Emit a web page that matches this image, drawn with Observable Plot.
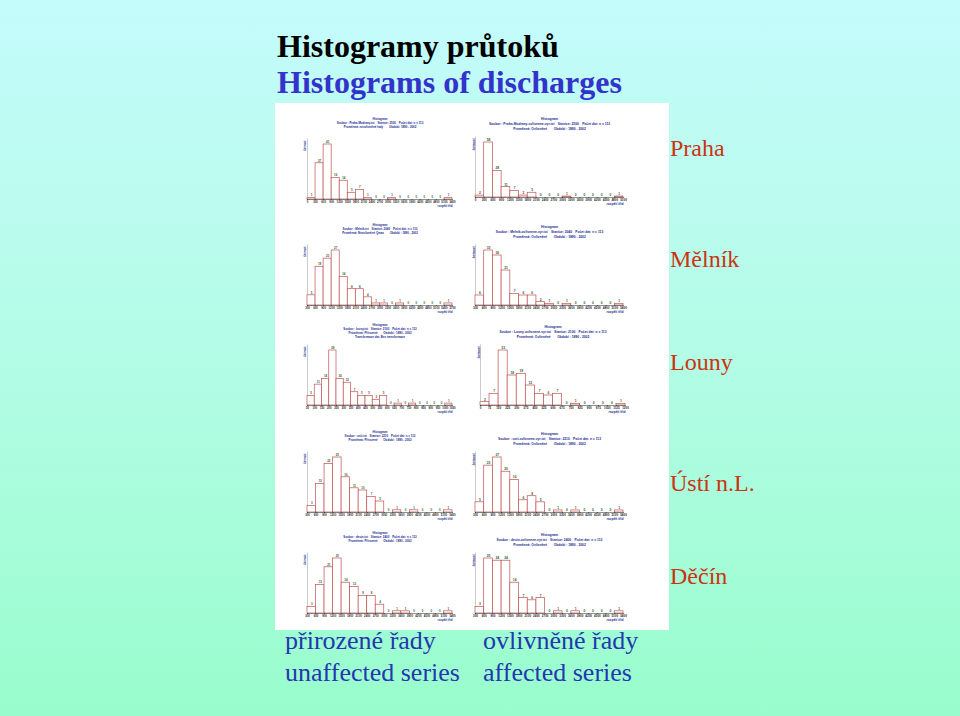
<!DOCTYPE html>
<html><head><meta charset="utf-8">
<script src="https://cdn.jsdelivr.net/npm/d3@7"></script>
<script src="https://cdn.jsdelivr.net/npm/@observablehq/plot@0.6"></script>
<style>
html,body{margin:0;padding:0;}
body{width:960px;height:716px;overflow:hidden;position:relative;background:linear-gradient(to bottom,#c4fbfb 0%,#b3fce6 50%,#98fdcc 100%);font-family:"Liberation Serif","Times New Roman",serif;}
.t{position:absolute;white-space:nowrap;line-height:1;}
#panel{position:absolute;left:275px;top:103px;width:394px;height:527px;background:#fff;}
.mini{position:absolute;}
.mini svg{overflow:visible;}
</style></head><body>
<div class="t" style="left:277px;top:30px;font-size:32px;font-weight:bold;color:#000">Histogramy průtoků</div>
<div class="t" style="left:277px;top:66px;font-size:32px;font-weight:bold;color:#3333cc">Histograms of discharges</div>
<div id="panel"></div>
<div class="t" style="left:670px;top:136px;font-size:24px;color:#cc3311">Praha</div>
<div class="t" style="left:670px;top:247px;font-size:24px;color:#cc3311">Mělník</div>
<div class="t" style="left:670px;top:350px;font-size:24px;color:#cc3311">Louny</div>
<div class="t" style="left:670px;top:471px;font-size:24px;color:#cc3311">Ústí n.L.</div>
<div class="t" style="left:670px;top:564px;font-size:24px;color:#cc3311">Děčín</div>
<div class="t" style="left:285px;top:628px;font-size:26px;color:#2436b0">přirozené řady</div>
<div class="t" style="left:483px;top:628px;font-size:26px;color:#2436b0">ovlivněné řady</div>
<div class="t" style="left:285px;top:660px;font-size:26px;color:#2436b0">unaffected series</div>
<div class="t" style="left:483px;top:660px;font-size:26px;color:#2436b0">affected series</div>
<script>
// ---- data (counts per class, class edge tick labels) ----
const prahaNatCounts = [1, 27, 41, 16, 14, 5, 7, 1, 0, 0, 1, 0, 0, 0, 0, 0, 0, 1];
const prahaNatEdges  = [0, 300, 600, 900, 1200, 1500, 1800, 2100, 2400, 2700, 3000, 3300, 3600, 3900, 4200, 4500, 4800, 5100, 5400];
const prahaAffCounts = [2, 58, 28, 11, 7, 2, 5, 0, 0, 0, 1, 0, 0, 0, 0, 0, 1];
const prahaAffEdges  = [0, 300, 600, 900, 1200, 1500, 1800, 2100, 2400, 2700, 3000, 3300, 3600, 3900, 4200, 4500, 4800, 5100];
const melnikNatCounts = [5, 19, 23, 27, 14, 8, 8, 4, 1, 1, 0, 1, 0, 0, 0, 0, 0, 1];
const melnikNatEdges  = [300, 600, 900, 1200, 1500, 1800, 2100, 2400, 2700, 3000, 3300, 3600, 3900, 4200, 4500, 4800, 5100, 5400, 5700];
const melnikAffCounts = [6, 33, 30, 21, 7, 6, 6, 2, 1, 0, 1, 0, 0, 0, 0, 0, 1];
const melnikAffEdges  = [300, 600, 900, 1200, 1500, 1800, 2100, 2400, 2700, 3000, 3300, 3600, 3900, 4200, 4500, 4800, 5100, 5400];
const lounyNatCounts = [5, 11, 14, 29, 14, 12, 7, 5, 5, 3, 5, 0, 1, 0, 1, 0, 0, 0, 0, 1];
const lounyNatEdges  = [50, 100, 150, 200, 250, 300, 350, 400, 450, 500, 550, 600, 650, 700, 750, 800, 850, 900, 950, 1000, 1050];
const lounyAffCounts = [2, 7, 33, 18, 19, 12, 7, 6, 7, 0, 1, 0, 0, 0, 0, 1];
const lounyAffEdges  = [0, 75, 150, 225, 300, 375, 450, 525, 600, 675, 750, 825, 900, 975, 1050, 1125, 1200];
const ustiNatCounts = [3, 13, 22, 25, 16, 11, 10, 7, 5, 0, 1, 0, 1, 0, 0, 0, 1];
const ustiNatEdges  = [300, 600, 900, 1200, 1500, 1800, 2100, 2400, 2700, 3000, 3300, 3600, 3900, 4200, 4500, 4800, 5100, 5400];
const ustiAffCounts = [5, 23, 27, 20, 16, 6, 8, 5, 0, 1, 0, 1, 0, 0, 0, 0, 1];
const ustiAffEdges  = [300, 600, 900, 1200, 1500, 1800, 2100, 2400, 2700, 3000, 3300, 3600, 3900, 4200, 4500, 4800, 5100, 5400];
const decinNatCounts = [3, 13, 21, 25, 14, 12, 8, 8, 4, 0, 1, 1, 0, 0, 0, 0, 1];
const decinNatEdges  = [300, 600, 900, 1200, 1500, 1800, 2100, 2400, 2700, 3000, 3300, 3600, 3900, 4200, 4500, 4800, 5100, 5400];
const decinAffCounts = [3, 25, 24, 24, 14, 7, 6, 7, 0, 1, 0, 1, 0, 0, 0, 0, 1];
const decinAffEdges  = [300, 600, 900, 1200, 1500, 1800, 2100, 2400, 2700, 3000, 3300, 3600, 3900, 4200, 4500, 4800, 5100, 5400];

const E = "\u2003";
const panels = [
  {counts: prahaNatCounts, edges: prahaNatEdges, col: 0, baseline: 199, ml: 32, mr: 20,
   title: ["Histogram", "Soubor : Praha-Modrany.txt"+E+"Stanice: 2500"+E+"Počet dat: n = 113", "Proměnná: neovlivněné řady"+E+E+"Období: 1890 - 2002"]},
  {counts: prahaAffCounts, edges: prahaAffEdges, col: 1, baseline: 197, ml: 5, mr: 45,
   title: ["Histogram", "Soubor : Praha-Modrany-ovlivnene-vyr.txt"+E+"Stanice: 2500"+E+"Počet dat: n = 113", "Proměnná: Ovlivněné"+E+E+"Období : 1890 - 2002"]},
  {counts: melnikNatCounts, edges: melnikNatEdges, col: 0, baseline: 305, ml: 32, mr: 20,
   title: ["Histogram", "Soubor : Melnik.txt"+E+"Stanice: 2040"+E+"Počet dat: n = 113", "Proměnná: Neovlivněné Qmax"+E+E+"Období : 1890 - 2002"]},
  {counts: melnikAffCounts, edges: melnikAffEdges, col: 1, baseline: 305, ml: 5, mr: 45,
   title: ["Histogram", "Soubor : Melnik-ovlivnene-vyr.txt"+E+"Stanice: 2040"+E+"Počet dat: n = 113", "Proměnná: Ovlivněné"+E+E+"Období : 1890 - 2002"]},
  {counts: lounyNatCounts, edges: lounyNatEdges, col: 0, baseline: 405, ml: 32, mr: 20,
   title: ["Histogram", "Soubor : louny.txt"+E+"Stanice: 2100"+E+"Počet dat: n = 113", "Proměnná: Přirozené"+E+E+"Období : 1890 - 2002", "Transformace dat: Bez transformace"]},
  {counts: lounyAffCounts, edges: lounyAffEdges, col: 1, baseline: 405, ml: 10, mr: 43,
   title: ["Histogram", "Soubor : Louny-ovlivnene-vyr.txt"+E+"Stanice: 2100"+E+"Počet dat: n = 113", "Proměnná: Ovlivněné"+E+E+"Období : 1890 - 2002"]},
  {counts: ustiNatCounts, edges: ustiNatEdges, col: 0, baseline: 512, ml: 32, mr: 20,
   title: ["Histogram", "Soubor : usti.txt"+E+"Stanice: 2210"+E+"Počet dat: n = 113", "Proměnná: Přirozené"+E+E+"Období : 1890 - 2002"]},
  {counts: ustiAffCounts, edges: ustiAffEdges, col: 1, baseline: 512, ml: 5, mr: 45,
   title: ["Histogram", "Soubor : usti-ovlivnene-vyr.txt"+E+"Stanice: 2210"+E+"Počet dat: n = 113", "Proměnná: Ovlivněné"+E+E+"Období : 1890 - 2002"]},
  {counts: decinNatCounts, edges: decinNatEdges, col: 0, baseline: 613, ml: 32, mr: 20,
   title: ["Histogram", "Soubor : decin.txt"+E+"Stanice: 2400"+E+"Počet dat: n = 113", "Proměnná: Přirozené"+E+E+"Období : 1890 - 2002"]},
  {counts: decinAffCounts, edges: decinAffEdges, col: 1, baseline: 613, ml: 5, mr: 45,
   title: ["Histogram", "Soubor : decin-ovlivnene-vyr.txt"+E+"Stanice: 2400"+E+"Počet dat: n = 113", "Proměnná: Ovlivněné"+E+E+"Období : 1890 - 2002"]}
];

const MT = 31, MB = 14, FH = 55;
for (const p of panels) {
  const bins = p.counts.map((c, i) => ({x1: p.edges[i], x2: p.edges[i + 1], c}));
  const max = d3.max(p.counts);
  const W = p.col === 0 ? 197 : 198;
  const fs = p.col === 0 ? 2.9 : 3.3;
  const tfs = p.col === 0 ? 2.8 : 3.0;
  const gap = p.col === 0 ? 4 : 5;
  const off0 = p.col === 0 ? -27 : -25;
  const blue = "#1a2a90";
  const titleMarks = p.title.map((s, i) => Plot.text([s], {
    frameAnchor: "top", dy: off0 + i * gap, fontSize: i === 0 ? fs * 1.05 : fs,
    fontWeight: "bold", fill: blue
  }));
  const chart = Plot.plot({
    width: W, height: MT + FH + MB,
    marginTop: MT, marginBottom: MB, marginLeft: p.ml, marginRight: p.mr,
    x: {domain: [p.edges[0], p.edges[p.edges.length - 1]], label: null},
    y: {domain: [0, max], axis: null},
    style: {background: "transparent", fontFamily: "'Liberation Sans', Arial, sans-serif", overflow: "visible"},
    marks: [
      Plot.ruleX([p.edges[0]], {y1: 0, y2: max * 1.1, stroke: "#a8a8a8", strokeWidth: 0.6}),
      Plot.rectY(bins, {x1: "x1", x2: "x2", y: "c", fill: "white", stroke: "#c05050", strokeWidth: 0.7}),
      Plot.ruleY([0], {stroke: "#444", strokeWidth: 0.6}),
      Plot.text(bins, {x: d => (d.x1 + d.x2) / 2, y: "c", text: d => String(d.c), dy: -2.6, fontSize: fs, fill: "#2e5e2e", fontWeight: "bold"}),
      Plot.axisX({ticks: p.edges, tickFormat: d => String(d), label: null, fontSize: tfs, fontWeight: "bold", tickSize: 1, tickPadding: 0.6, strokeWidth: 0.5, fill: "#222"}),
      Plot.text(["četnost"], {frameAnchor: "top-left", rotate: -90, textAnchor: "end", dx: p.col === 0 ? -3.5 : -2.5, dy: -4, fontSize: fs, fill: blue, fontWeight: "bold"}),
      Plot.text(["rozpětí tříd"], {frameAnchor: "bottom-right", textAnchor: "end", dy: 7.5, fontSize: fs, fill: blue, fontWeight: "bold"}),
      ...titleMarks
    ]
  });
  const div = document.createElement("div");
  div.className = "mini";
  div.style.left = (p.col === 0 ? 275 : 470) + "px";
  div.style.top = (p.baseline - MT - FH) + "px";
  div.appendChild(chart);
  document.body.appendChild(div);
}
</script>
</body></html>
